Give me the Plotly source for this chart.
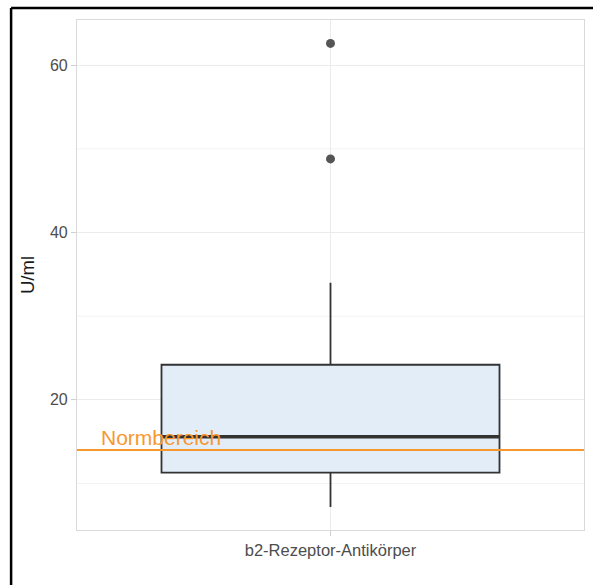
import plotly.graph_objects as go

# Summary statistics of the antibody titre (U/ml)
category = ["b2-Rezeptor-Antikörper"]
q1 = [11.3]
median = [15.6]
q3 = [24.2]
lower_whisker = [7.2]
upper_whisker = [34.0]
outliers = [62.6, 48.8]
norm_value = 14.0
norm_label = "Normbereich"

y_ticks = [20, 40, 60]
y_minor = [10, 30, 50]
y_range = [4.45, 65.4]
box_width = 0.8

fig = go.Figure()

fig.add_trace(go.Box(
    x=[0],
    q1=q1, median=median, q3=q3,
    lowerfence=lower_whisker, upperfence=upper_whisker,
    width=box_width,
    whiskerwidth=0,
    fillcolor="#e3edf8",
    line=dict(color="#333333", width=1.8),
    boxpoints=False,
    hoverinfo="skip",
    showlegend=False,
))

fig.add_trace(go.Scatter(
    x=[0] * len(outliers), y=outliers,
    mode="markers",
    marker=dict(color="#555555", size=9),
    showlegend=False, hoverinfo="skip",
))

shapes = []
# thicker median bar
shapes.append(dict(type="line", xref="x", yref="y",
                   x0=-box_width / 2, x1=box_width / 2,
                   y0=median[0], y1=median[0],
                   line=dict(color="#333333", width=3.5)))
# minor grid lines
for v in y_minor:
    shapes.append(dict(type="line", xref="paper", yref="y", x0=0, x1=1,
                       y0=v, y1=v, layer="below",
                       line=dict(color="#f3f3f3", width=1)))
# reference line
shapes.append(dict(type="line", xref="paper", yref="y", x0=0, x1=1,
                   y0=norm_value, y1=norm_value,
                   line=dict(color="#f7982f", width=2)))
# outer frame (left and top)
shapes.append(dict(type="line", xref="paper", yref="paper",
                   x0=-0.13, x1=1.1, y0=1.0235, y1=1.0235,
                   line=dict(color="black", width=2.5)))
shapes.append(dict(type="line", xref="paper", yref="paper",
                   x0=-0.13, x1=-0.13, y0=1.0235, y1=-0.2,
                   line=dict(color="black", width=2.5)))

fig.update_layout(
    width=593, height=585,
    margin=dict(l=77, r=9, t=20, b=55),
    paper_bgcolor="white", plot_bgcolor="white",
    font=dict(family="Liberation Sans, Arial, sans-serif", color="#4d4d4d", size=13),
    shapes=shapes,
    annotations=[dict(
        x=-0.549, y=norm_value, xref="x", yref="y",
        text=norm_label, showarrow=False,
        xanchor="left", yanchor="bottom", yshift=-1,
        font=dict(color="#f7982f", size=21),
    )],
)

fig.update_xaxes(
    range=[-0.6, 0.6],
    tickvals=[0], ticktext=category,
    showgrid=True, gridcolor="#ebebeb", gridwidth=1,
    zeroline=False,
    showline=True, mirror=True, linecolor="#d9d9d9", linewidth=1.2,
    ticks="outside", ticklen=5, tickcolor="#d0d0d0",
    tickfont=dict(size=16.5, color="#4d4d4d"),
)
fig.update_yaxes(
    range=y_range,
    tickvals=y_ticks,
    showgrid=True, gridcolor="#ebebeb", gridwidth=1,
    zeroline=False,
    showline=True, mirror=True, linecolor="#d9d9d9", linewidth=1.2,
    ticks="outside", ticklen=5, tickcolor="#d0d0d0",
    tickfont=dict(size=16, color="#4d4d4d"),
    title=dict(text="U/ml", font=dict(size=18.5, color="#1a1a1a"), standoff=10),
)

fig.write_html("out.html")
